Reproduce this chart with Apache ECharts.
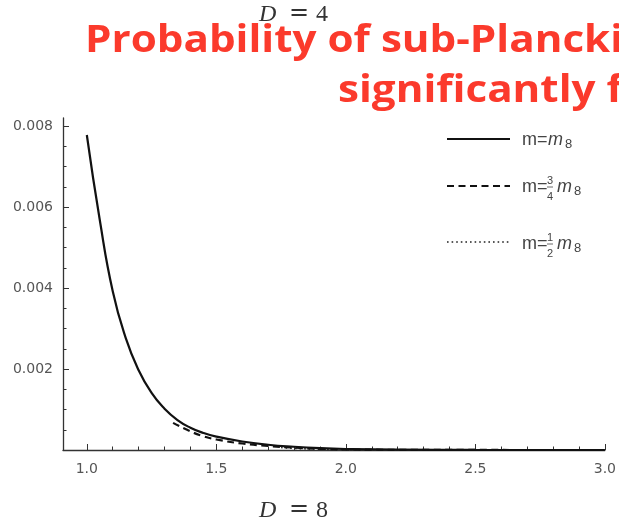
<!DOCTYPE html>
<html>
<head>
<meta charset="utf-8">
<script src="https://cdn.jsdelivr.net/npm/echarts@6/dist/echarts.min.js"></script>
<style>html,body{margin:0;padding:0;background:#fff;}#c{width:619px;height:525px;}</style>
</head>
<body>
<div id="c"></div>
<script>
// ---- data ----
var xFull = [1.00, 1.05, 1.10, 1.15, 1.20, 1.25, 1.30, 1.35, 1.40, 1.45, 1.50, 1.60, 1.70, 1.80, 1.90, 2.00, 2.20, 2.50, 3.00];
var ySolid = [0.00778, 0.00568, 0.00392, 0.00277, 0.00197, 0.00141, 0.00102, 0.00074, 0.00055, 0.00042, 0.00033, 0.00021, 0.00013, 0.00008, 0.000045, 0.000025, 0.000008, 0.000002, 0.0];
var xDash = [1.333, 1.40, 1.45, 1.50, 1.60, 1.70, 1.80, 1.90, 2.00, 2.20, 2.50, 3.00];
var yDash = [0.00067, 0.00046, 0.00034, 0.00026, 0.00016, 0.00010, 0.00006, 0.00003, 0.000015, 0.000005, 0.000001, 0.0];
var xDot = [1.75, 1.80, 1.90, 2.00, 2.20, 2.50, 3.00];
var yDot = [0.00006, 0.00004, 0.00002, 0.00001, 0.000004, 0.000001, 0.0];
var xMajorTicks = [1.0, 1.5, 2.0, 2.5, 3.0];
var xMinorTicks = [1.1, 1.2, 1.3, 1.4, 1.6, 1.7, 1.8, 1.9, 2.1, 2.2, 2.3, 2.4, 2.6, 2.7, 2.8, 2.9];
var yMajorTicks = [0.002, 0.004, 0.006, 0.008];
var yMinorTicks = [0.0005, 0.001, 0.0015, 0.0025, 0.003, 0.0035, 0.0045, 0.005, 0.0055, 0.0065, 0.007, 0.0075];
var titleLine1 = 'Probability of sub-Planckian';
var titleLine2 = 'significantly favoured';
var topLabel = ['D', '=', '4'];
var bottomLabel = ['D', '=', '8'];
var legendNames = ['m=m8', 'm=3/4 m8', 'm=1/2 m8'];

function pairs(xs, ys) { return xs.map(function (x, i) { return [x, ys[i]]; }); }

var chart = echarts.init(document.getElementById('c'));
var axisColor = '#333';
var txt = '#444';
var labelFont = { fontFamily: 'DejaVu Sans', fontSize: 14, color: '#555' };

function mSub(left, yc) {
  return { type: 'text', left: left, top: yc - 12, z: 10,
    style: { rich: { i: { fontFamily: 'Liberation Sans', fontStyle: 'italic', fontSize: 18, fill: txt }, s: { fontFamily: 'Liberation Sans', fontSize: 13, fill: txt, padding: [9, 0, 0, 2] } },
      text: '{i|m}{s|8}' } };
}
function legendText(yc, num, den) {
  var els = [];
  els.push({ type: 'text', left: 522, top: yc - 12, z: 10, style: { text: 'm=', fontFamily: 'Liberation Sans', fontSize: 18, fill: txt } });
  if (num === null) {
    els.push(mSub(548, yc));
  } else {
    els.push({ type: 'text', left: 547, top: yc - 15, z: 10, style: { text: num, fontFamily: 'Liberation Sans', fontSize: 11, fill: txt } });
    els.push({ type: 'line', z: 10, shape: { x1: 547, y1: yc - 3, x2: 553, y2: yc - 3 }, style: { stroke: txt, lineWidth: 0.8 } });
    els.push({ type: 'text', left: 547, top: yc + 1, z: 10, style: { text: den, fontFamily: 'Liberation Sans', fontSize: 11, fill: txt } });
    els.push(mSub(557, yc));
  }
  return els;
}
function dLabel(parts, top) {
  return [
    { type: 'text', left: 259, top: top, z: 5, style: { text: parts[0], fontFamily: 'Liberation Serif', fontStyle: 'italic', fontSize: 24, fill: '#333' } },
    { type: 'text', left: 289, top: top - 1, z: 5, style: { text: parts[1], fontFamily: 'DejaVu Serif', fontSize: 24, fill: '#333' } },
    { type: 'text', left: 316, top: top, z: 5, style: { text: parts[2], fontFamily: 'Liberation Serif', fontSize: 24, fill: '#333' } }
  ];
}

var graphics = [
  { type: 'line', z: 10, shape: { x1: 447, y1: 139, x2: 510, y2: 139 }, style: { stroke: '#111', lineWidth: 2.2 } },
  { type: 'line', z: 10, shape: { x1: 447, y1: 186, x2: 510, y2: 186 }, style: { stroke: '#111', lineWidth: 2.2, lineDash: [7, 4.5] } },
  { type: 'line', z: 10, shape: { x1: 447, y1: 242, x2: 510, y2: 242 }, style: { stroke: '#222', lineWidth: 1.6, lineDash: [1.6, 3] } },
  { type: 'text', x: 85, y: 22, scaleX: 1.11, z: 20, style: { text: titleLine1, fontFamily: 'Open Sans', fontWeight: 'bold', fontSize: 38, fill: '#fb3a2c' } },
  { type: 'text', x: 338, y: 72, scaleX: 1.11, z: 20, style: { text: titleLine2, fontFamily: 'Open Sans', fontWeight: 'bold', fontSize: 38, fill: '#fb3a2c' } }
].concat(dLabel(topLabel, 3), dLabel(bottomLabel, 499), legendText(143, null, null), legendText(190, '3', '4'), legendText(247, '1', '2'));

chart.setOption({
  animation: false,
  backgroundColor: '#fff',
  grid: { left: 63, right: 9, top: 118, bottom: 75, containLabel: false },
  xAxis: [
    { type: 'value', min: 0.908, max: 3.0, position: 'bottom',
      axisLine: { show: true, lineStyle: { color: axisColor, width: 1.3 } },
      axisTick: { show: true, inside: true, length: 6, customValues: xMajorTicks, lineStyle: { color: axisColor } },
      axisLabel: { show: true, customValues: xMajorTicks, margin: 12, formatter: function (v) { return v.toFixed(1); }, fontFamily: labelFont.fontFamily, fontSize: labelFont.fontSize, color: labelFont.color },
      splitLine: { show: false } },
    { type: 'value', min: 0.908, max: 3.0, position: 'bottom',
      axisLine: { show: false },
      axisTick: { show: true, inside: true, length: 3.5, customValues: xMinorTicks, lineStyle: { color: axisColor } },
      axisLabel: { show: false }, splitLine: { show: false } }
  ],
  yAxis: [
    { type: 'value', min: 0, max: 0.0082, position: 'left',
      axisLine: { show: true, lineStyle: { color: axisColor, width: 1.3 } },
      axisTick: { show: true, inside: true, length: 6, customValues: yMajorTicks, lineStyle: { color: axisColor } },
      axisLabel: { show: true, customValues: yMajorTicks, margin: 10, formatter: function (v) { return v.toFixed(3); }, fontFamily: labelFont.fontFamily, fontSize: labelFont.fontSize, color: labelFont.color },
      splitLine: { show: false } },
    { type: 'value', min: 0, max: 0.0082, position: 'left',
      axisLine: { show: false },
      axisTick: { show: true, inside: true, length: 3.5, customValues: yMinorTicks, lineStyle: { color: axisColor } },
      axisLabel: { show: false }, splitLine: { show: false } }
  ],
  series: [
    { type: 'line', name: legendNames[0], data: pairs(xFull, ySolid), smooth: 0.5, showSymbol: false, lineStyle: { color: '#111', width: 2.2 }, z: 3 },
    { type: 'line', name: legendNames[1], data: pairs(xDash, yDash), smooth: 0.5, showSymbol: false, lineStyle: { color: '#111', width: 2.2, type: [7, 4.5] }, z: 2 },
    { type: 'line', name: legendNames[2], data: pairs(xDot, yDot), smooth: 0.5, showSymbol: false, lineStyle: { color: '#222', width: 1.6, type: [1.6, 3] }, z: 1 }
  ],
  graphic: graphics
});
</script>
</body>
</html>
